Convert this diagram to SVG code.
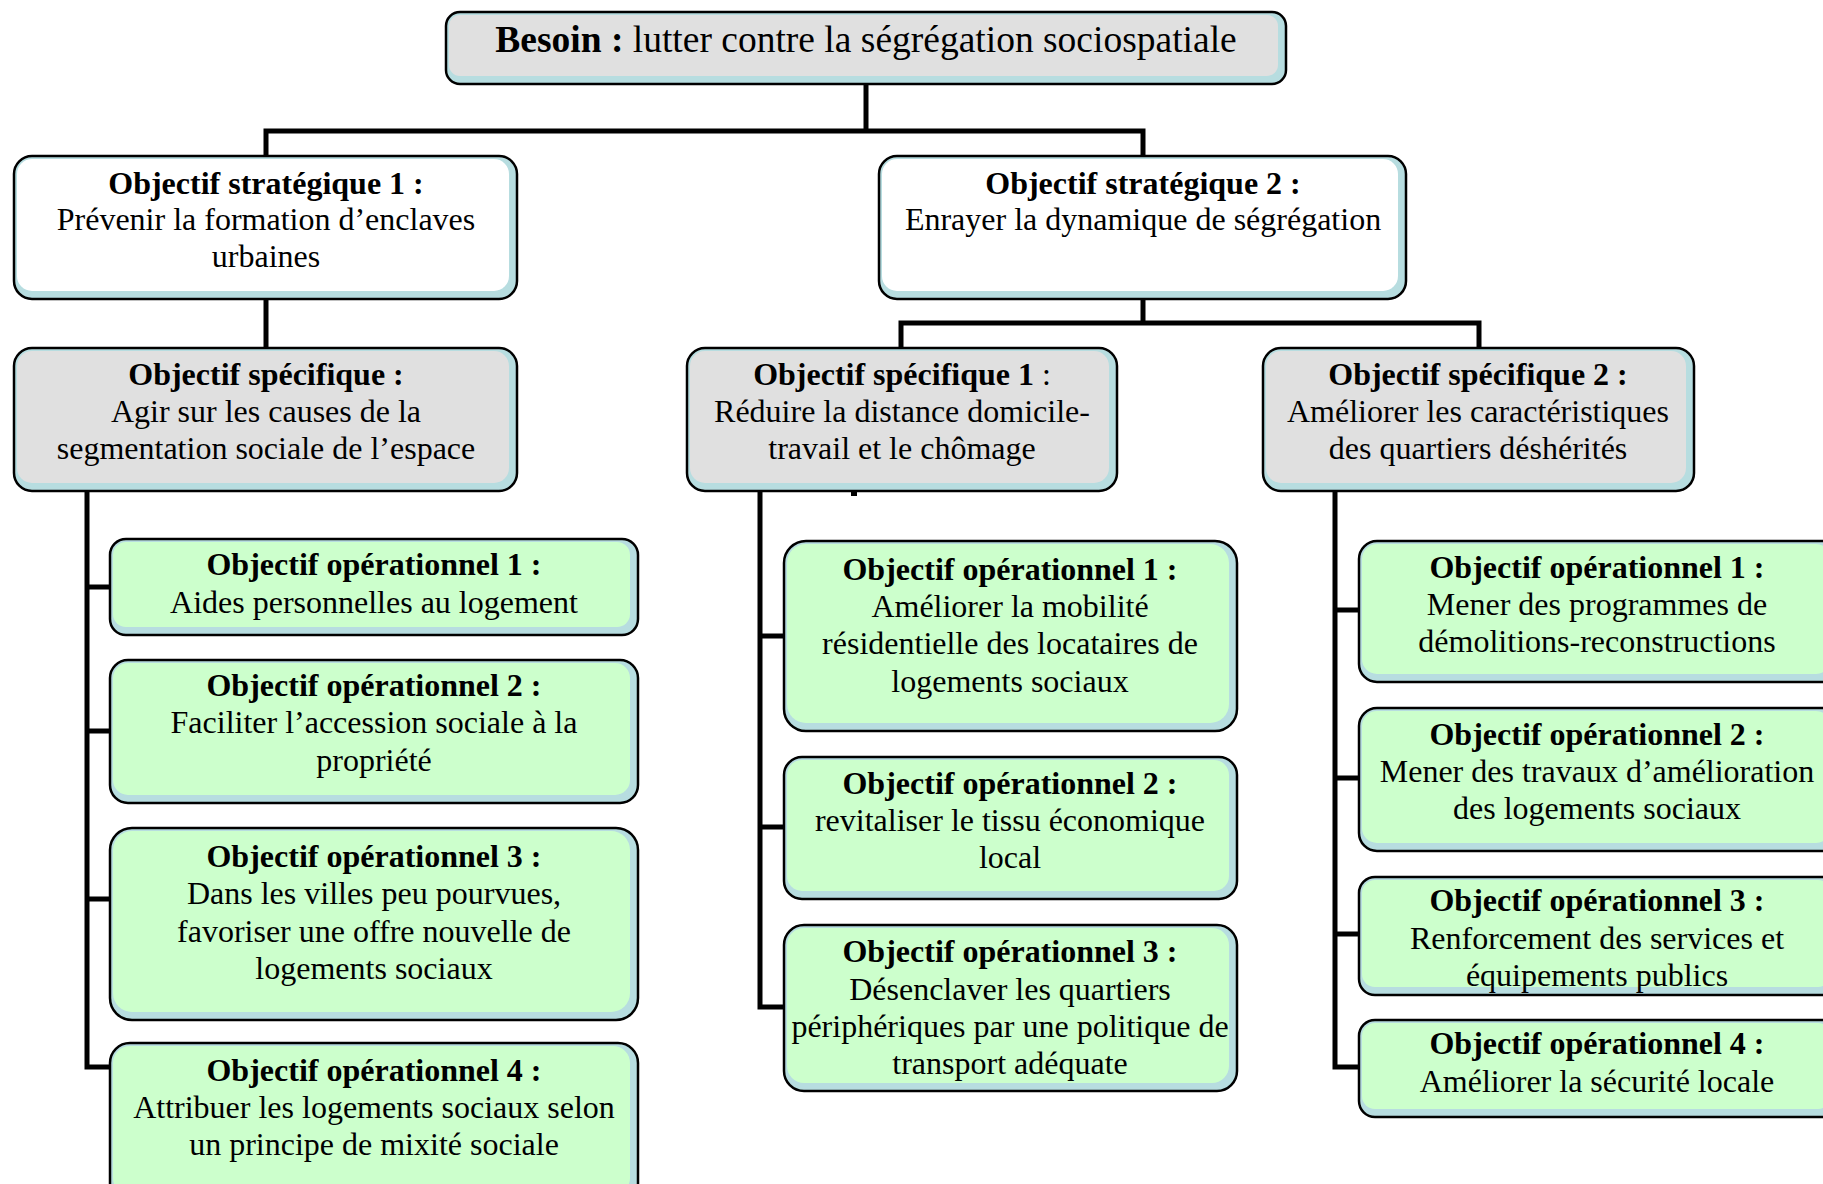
<svg xmlns="http://www.w3.org/2000/svg" width="1823" height="1184" viewBox="0 0 1823 1184">
<style>
.o{fill:#b7dde0;stroke:#000;stroke-width:2.5}
.g{fill:#e0e0e0}
.w{fill:#ffffff}
.v{fill:#ccffcc}
text{font-family:"Liberation Serif","Times New Roman",serif;font-size:32px;fill:#000;text-anchor:middle}
.b{font-weight:bold}
.c{fill:none;stroke:#000;stroke-width:5;stroke-linejoin:miter}
</style>
<rect width="1823" height="1184" fill="#fff"/>
<g id="connectors">
<path class="c" d="M866,84 V131"/>
<path class="c" d="M266,156 V131 H1143 V156"/>
<path class="c" d="M266,299 V348"/>
<path class="c" d="M1143,299 V323"/>
<path class="c" d="M901,348 V323 H1479 V348"/>
<path class="c" d="M87,491 V1067 H110 M87,587 H110 M87,731 H110 M87,899 H110"/>
<path class="c" d="M760,491 V1007 H784 M760,636 H784 M760,827 H784"/>
<path class="c" d="M1335,491 V1067 H1359 M1335,610 H1359 M1335,778 H1359 M1335,934 H1359"/>
<path d="M854,490 V496" stroke="#000" stroke-width="6"/>
</g>
<g id="besoin">
<rect class="o" x="446" y="12" width="840" height="72" rx="14"/>
<rect class="g" x="449" y="15" width="829" height="61" rx="11"/>
<text x="866" y="52" style="font-size:37.5px"><tspan class="b">Besoin :</tspan> lutter contre la ségrégation sociospatiale</text>
</g>
<g id="strat1">
<rect class="o" x="14" y="156" width="503" height="143" rx="18"/>
<rect class="w" x="17" y="159" width="492" height="132" rx="15"/>
<text x="266" y="194" class="b">Objectif stratégique 1 :</text>
<text x="266" y="230">Prévenir la formation d’enclaves</text>
<text x="266" y="267">urbaines</text>
</g>
<g id="strat2">
<rect class="o" x="879" y="156" width="527" height="143" rx="18"/>
<rect class="w" x="882" y="159" width="516" height="132" rx="15"/>
<text x="1143" y="194" class="b">Objectif stratégique 2 :</text>
<text x="1143" y="230">Enrayer la dynamique de ségrégation</text>
</g>
<g id="spec0">
<rect class="o" x="14" y="348" width="503" height="143" rx="18"/>
<rect class="g" x="17" y="351" width="492" height="132" rx="15"/>
<text x="266" y="385" class="b">Objectif spécifique :</text>
<text x="266" y="422">Agir sur les causes de la</text>
<text x="266" y="459">segmentation sociale de l’espace</text>
</g>
<g id="spec1">
<rect class="o" x="687" y="348" width="430" height="143" rx="18"/>
<rect class="g" x="690" y="351" width="419" height="132" rx="15"/>
<text x="902" y="385"><tspan class="b">Objectif spécifique 1</tspan> :</text>
<text x="902" y="422">Réduire la distance domicile-</text>
<text x="902" y="459">travail et le chômage</text>
</g>
<g id="spec2">
<rect class="o" x="1263" y="348" width="431" height="143" rx="18"/>
<rect class="g" x="1266" y="351" width="420" height="132" rx="15"/>
<text x="1478" y="385" class="b">Objectif spécifique 2 :</text>
<text x="1478" y="422">Améliorer les caractéristiques</text>
<text x="1478" y="459">des quartiers déshérités</text>
</g>
<g id="opL1">
<rect class="o" x="110" y="539" width="528" height="96" rx="16"/>
<rect class="v" x="113" y="542" width="517" height="85" rx="13"/>
<text x="374" y="575" class="b">Objectif opérationnel 1 :</text>
<text x="374" y="613">Aides personnelles au logement</text>
</g>
<g id="opL2">
<rect class="o" x="110" y="660" width="528" height="143" rx="18"/>
<rect class="v" x="113" y="663" width="517" height="132" rx="15"/>
<text x="374" y="696" class="b">Objectif opérationnel 2 :</text>
<text x="374" y="733">Faciliter l’accession sociale à la</text>
<text x="374" y="771">propriété</text>
</g>
<g id="opL3">
<rect class="o" x="110" y="828" width="528" height="192" rx="22"/>
<rect class="v" x="113" y="831" width="517" height="181" rx="19"/>
<text x="374" y="867" class="b">Objectif opérationnel 3 :</text>
<text x="374" y="904">Dans les villes peu pourvues,</text>
<text x="374" y="942">favoriser une offre nouvelle de</text>
<text x="374" y="979">logements sociaux</text>
</g>
<g id="opL4">
<rect class="o" x="110" y="1043" width="528" height="160" rx="20"/>
<rect class="v" x="113" y="1046" width="517" height="149" rx="17"/>
<text x="374" y="1081" class="b">Objectif opérationnel 4 :</text>
<text x="374" y="1118">Attribuer les logements sociaux selon</text>
<text x="374" y="1155">un principe de mixité sociale</text>
</g>
<g id="opM1">
<rect class="o" x="784" y="541" width="453" height="190" rx="22"/>
<rect class="v" x="787" y="544" width="442" height="179" rx="19"/>
<text x="1010" y="580" class="b">Objectif opérationnel 1 :</text>
<text x="1010" y="617">Améliorer la mobilité</text>
<text x="1010" y="654">résidentielle des locataires de</text>
<text x="1010" y="692">logements sociaux</text>
</g>
<g id="opM2">
<rect class="o" x="784" y="757" width="453" height="142" rx="18"/>
<rect class="v" x="787" y="760" width="442" height="131" rx="15"/>
<text x="1010" y="794" class="b">Objectif opérationnel 2 :</text>
<text x="1010" y="831">revitaliser le tissu économique</text>
<text x="1010" y="868">local</text>
</g>
<g id="opM3">
<rect class="o" x="784" y="925" width="453" height="166" rx="20"/>
<rect class="v" x="787" y="928" width="442" height="155" rx="17"/>
<text x="1010" y="962" class="b">Objectif opérationnel 3 :</text>
<text x="1010" y="1000">Désenclaver les quartiers</text>
<text x="1010" y="1037">périphériques par une politique de</text>
<text x="1010" y="1074">transport adéquate</text>
</g>
<g id="opR1">
<rect class="o" x="1359" y="541" width="480" height="141" rx="18"/>
<rect class="v" x="1362" y="544" width="469" height="130" rx="15"/>
<text x="1597" y="578" class="b">Objectif opérationnel 1 :</text>
<text x="1597" y="615">Mener des programmes de</text>
<text x="1597" y="652">démolitions-reconstructions</text>
</g>
<g id="opR2">
<rect class="o" x="1359" y="708" width="480" height="143" rx="18"/>
<rect class="v" x="1362" y="711" width="469" height="132" rx="15"/>
<text x="1597" y="745" class="b">Objectif opérationnel 2 :</text>
<text x="1597" y="782">Mener des travaux d’amélioration</text>
<text x="1597" y="819">des logements sociaux</text>
</g>
<g id="opR3">
<rect class="o" x="1359" y="877" width="480" height="118" rx="16"/>
<rect class="v" x="1362" y="880" width="469" height="107" rx="13"/>
<text x="1597" y="911" class="b">Objectif opérationnel 3 :</text>
<text x="1597" y="949">Renforcement des services et</text>
<text x="1597" y="986">équipements publics</text>
</g>
<g id="opR4">
<rect class="o" x="1359" y="1020" width="480" height="97" rx="16"/>
<rect class="v" x="1362" y="1023" width="469" height="86" rx="13"/>
<text x="1597" y="1054" class="b">Objectif opérationnel 4 :</text>
<text x="1597" y="1092">Améliorer la sécurité locale</text>
</g>
</svg>
